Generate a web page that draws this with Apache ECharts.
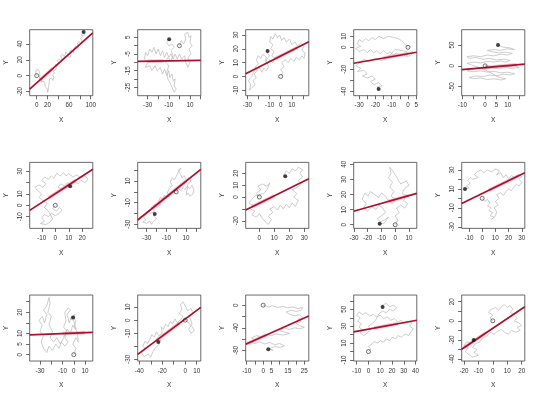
<!DOCTYPE html>
<html><head><meta charset="utf-8">
<script src="https://cdn.jsdelivr.net/npm/echarts@6/dist/echarts.min.js"></script>
<style>html,body{margin:0;padding:0;background:#fff}#c{width:540px;height:398px}</style>
</head><body><div id="c"></div>
<script>
// axis extents per panel (row-major, 3 rows x 5 columns)
const xMin = [-13, -39.4, -31.5, -33.3, -10.3, -18.9, -39.1, -9.1, -30.2, -15.5, -39.2, -41.4, -10.6, -12.5, -21.6];
const xMax = [104, 20.2, 25.3, 5.4, 17.5, 27.7, 25, 33, 15.7, 32.3, 16.9, 13.6, 27.7, 41, 22.2];
const yMin = [-25.3, -30, -13.9, -44, -71.6, -20.3, -33.7, -26.4, -2.4, -31.7, -3, -31.3, -99, -11.2, -42.1];
const yMax = [58, 9.6, 33.8, 16, 86.7, 37.9, 27.2, 29.2, 41.3, 38, 28.1, 19.2, 18, 66.9, 27];
// tick positions and labelled ticks
const xTicks = [[0,20,40,60,80,100],[-30,-20,-10,0,10,20],[-30,-20,-10,0,10,20],[-30,-25,-20,-15,-10,-5,0,5],[-10,-5,0,5,10,15],
  [-10,0,10,20],[-30,-20,-10,0,10,20],[0,10,20,30],[-30,-20,-10,0,10],[-10,0,10,20,30],
  [-30,-20,-10,0,10],[-40,-30,-20,-10,0,10],[-10,-5,0,5,10,15,20,25],[-10,0,10,20,30,40],[-20,-10,0,10,20]];
const xLabels = [[0,20,60,100],[-30,-10,10],[-30,-10,0,10],[-30,-20,-10,0,5],[-10,0,5,10],
  [-10,0,10,20],[-30,-10,10],[0,10,20,30],[-30,-20,-10,0,10],[-10,0,10,20,30],
  [-30,-10,0,10],[-40,-20,0,10],[-10,0,5,15,25],[-10,0,10,20,30,40],[-20,-10,0,10,20]];
const yTicks = [[-20,0,20,40],[-25,-20,-15,-10,-5,0,5],[-10,0,10,20,30],[-40,-30,-20,-10,0,10],[-50,0,50],
  [-10,0,10,20,30],[-30,-20,-10,0,10,20],[-20,-10,0,10,20],[0,10,20,30,40],[-30,-20,-10,0,10,20,30],
  [0,5,10,15,20,25],[-30,-20,-10,0,10],[-80,-60,-40,-20,0],[-10,0,10,20,30,40,50,60],[-40,-30,-20,-10,0,10,20]];
const yLabels = [[-20,0,20,40],[-25,-15,-5,5],[-10,0,10,20,30],[-40,-20,0,10],[-50,0,50],
  [-10,0,10,30],[-30,-10,10],[-20,0,10,20],[0,10,20,30,40],[-30,-10,10,30],
  [0,5,10,20],[-30,-10,0,10],[-80,-40,0],[-10,10,30,50],[-40,-20,0,20]];
// regression line: intercept and slope
const fitA = [-9.1, -9.0, 14.8, -5.9, -4.1, 10.3, 2.55, -5.3, 16.7, 5.1, 10.14, 0.9, -55.4, 26.5, -7.76];
const fitB = [0.607, 0.01, 0.408, 0.258, 0.464, 0.779, 0.730, 0.625, 0.257, 0.680, 0.0214, 0.655, 1.303, 0.258, 1.016];
// highlighted (pink) part of the fitted line, x range
const pinkFrom = [5, -30, -5, -15, 0, -5, -25, -5, -5, 5, -10, -25, -10, 5, -20];
const pinkTo   = [30, -15, 15, 0, 14, 15, 10, 10, 10, 28, 10, -5, 2, 25, -5];
// random walk paths (x,y pairs), start = open circle, end = filled dot
const walk1 = [0,0, -2,3, 1,5, -1,7, 3,8, 5,5, 7,7, 4,3, 6,1, 3,-1, 5,-3, 8,-2, 10,-5, 8,-8, 11,-9, 13,-7, 15,-10, 13,-12, 16,-14, 19,-12, 18,-16, 21,-18, 20,-21, 23,-19, 22,-15, 25,-13, 23,-9, 26,-7, 24,-4, 28,-3, 30,-6, 32,-2, 29,1, 33,3, 31,6, 35,7, 37,11, 35,14, 39,13, 41,16, 38,19, 42,21, 45,18, 47,22, 44,25, 48,27, 51,24, 53,27, 50,29, 54,30, 57,27, 60,29, 58,24, 62,23, 64,27, 61,31, 65,32, 68,29, 71,31, 69,35, 73,37, 76,34, 78,38, 75,41, 79,43, 82,40, 84,44, 81,47, 85,49, 83,52, 87,50, 89,53, 86,56, 87,55];
const walk2 = [0,0, 2,3, 4,1, 6,4, 5,7, 8,8, 9,5, 11,6, 10,2, 12,0, 9,-2, 11,-5, 8,-7, 10,-10, 8,-13, 6,-10, 5,-6, 2,-8, 0,-5, -2,-8, -4,-5, -6,-8, -8,-5, -10,-7, -12,-4, -14,-7, -16,-3, -18,-6, -20,-2, -22,-5, -24,-1, -26,-4, -28,-2, -30,-6, -32,-4, -33,-8, -30,-10, -32,-13, -28,-12, -26,-15, -23,-12, -21,-15, -18,-13, -16,-17, -14,-14, -12,-18, -10,-15, -9,-19, -7,-17, -6,-21, -4,-20, -5,-24, -3,-26, -5,-28, -7,-25, -9,-22, -11,-20, -12,-16, -10,-12, -13,-10, -11,-7, -8,-9, -6,-6, -8,-3, -5,-1, -7,1, -10,0, -12,2, -9.7,3.8];
const walk3 = [0,0, 2,3, 0,5, 3,7, 1,10, 4,12, 7,10, 9,13, 12,11, 14,14, 17,12, 19,15, 21,13, 22,17, 19,19, 21,22, 18,24, 15,22, 13,25, 10,23, 8,27, 5,25, 3,28, 1,26, -1,30, -3,28, -5,31, -7,27, -9,29, -10,25, -7,23, -9,20, -6,18, -8,15, -5,13, -7,10, -10,12, -12,9, -14,11, -13,14, -16,16, -18,13, -20,15, -22,12, -20,9, -23,7, -21,4, -24,2, -22,-1, -25,-3, -23,-6, -26,-8, -28,-10, -27,-6, -29,-3, -26,0, -24,4, -19,6, -17,3, -15,6, -13,4, -11,7, -13,12, -10,15, -12,17, -11.8,18.4];
const walk4 = [0,0, -2,3, -4,6, -6,8, -9,9, -12,10, -15,8, -18,10, -20,7, -22,9, -24,6, -26,8, -28,5, -30,7, -31,3, -29,1, -32,-1, -30,-4, -27,-2, -25,-5, -23,-2, -21,-5, -19,-3, -17,-6, -15,-3, -13,-6, -11,-4, -9,-7, -7,-5, -5,-8, -3,-6, -1,-9, 2,-7, 3,-4, 0,-5, -3,-3, -8,-2, -12,-9, -16,-12, -20,-10, -24,-13, -27,-11, -30,-14, -32,-17, -29,-19, -31,-22, -27,-21, -25,-24, -28,-26, -25,-28, -22,-26, -20,-29, -23,-31, -21,-34, -18,-32, -16,-35, -19,-36, -18,-38];
const walk5 = [0,0, 3,-2, 7,1, 10,-2, 13,0, 15,-4, 12,-6, 9,-4, 6,-7, 3,-5, 0,-8, -3,-6, -6,-9, -8,-12, -5,-14, -2,-12, 1,-15, 4,-13, 7,-17, 10,-15, 13,-19, 11,-22, 8,-20, 5,-24, 2,-22, -1,-26, -4,-24, -7,-28, -5,-31, -2,-29, 1,-33, 4,-31, 7,-34, 9,-31, 6,-27, 3,-18, 0,-10, -3,-3, -6,2, -8,6, -5,9, -2,7, 1,11, 4,9, 7,12, 9,9, 11,13, 8,16, 5,14, 2,18, -1,16, -4,20, -7,18, -8,22, -5,24, -2,22, 1,26, 4,24, 7,28, 10,26, 12,30, 9,33, 6,31, 3,34, 1,37, 4,39, 7,37, 10,41, 13,39, 11,43, 8,45, 5.7,50];
const walk6 = [0,0, -2,-3, 1,-5, 3,-2, 5,-4, 3,-7, 0,-9, -3,-7, -5,-10, -8,-8, -10,-11, -8,-14, -11,-16, -7,-17, -4,-15, -2,-12, -5,-5, -8,-2, -6,2, -9,4, -12,7, -10,10, -13,13, -15,16, -12,18, -9,16, -7,19, -10,22, -8,25, -5,23, -3,26, -1,24, 1,28, 4,26, 6,29, 8,26, 10,28, 13,25, 16,27, 19,24, 22,26, 24,23, 22,20, 19,22, 17,19, 14,21, 12,18, 9,20, 7,17, 4,19, 2,16, 5,14, 8,15, 11,16.8];
const walk7 = [0,0, 2,3, 5,1, 7,4, 9,2, 11,5, 14,3, 16,6, 18,2, 17,-2, 14,-4, 12,-1, 10,-3, 12,7, 15,10, 13,13, 10,11, 8,15, 6,13, 4,17, 2,20, 5,22, 2,18, 0,14, -2,11, -4,13, -6,9, -4,6, -7,3, -9,-1, -7,-4, -10,-6, -12,-3, -14,-7, -16,-5, -18,-9, -16,-12, -19,-14, -22,-12, -24,-15, -22,-18, -26,-20, -28,-17, -30,-21, -33,-23, -31,-26, -34,-28, -30,-29, -27,-27, -25,-30, -23,-27, -20,-25, -23,-22, -21.8,-20.5];
const walk8 = [0,0, -2,3, 1,6, -1,9, 2,11, 5,9, 7,12, 5,6, 3,3, -3,1, -5,-2, -7,-5, -4,-7, -6,-10, -3,-12, -5,-15, -2,-17, 0,-14, 2,-18, 4,-21, 6,-23, 8,-19, 6,-16, 9,-13, 7,-10, 10,-8, 12,-11, 14,-7, 16,-10, 18,-6, 20,-9, 22,-5, 24,-8, 26,-3, 23,0, 25,3, 22,6, 25,8, 28,11, 26,14, 29,17, 27,20, 29,23, 26,25, 24,22, 22,24, 20,20, 18,22, 16,18, 17.3,17.5];
const walk9 = [0,0, 2,3, 0,6, 3,8, 1,11, 4,13, 7,11, 9,14, 6,16, 8,19, 5,21, 7,24, 10,26, 8,29, 4,27, 2,30, 0,33, -2,36, -4,38, -3,34, -5,31, -2,28, -4,25, -1,22, -3,19, 0,17, -2,14, -5,16, -7,19, -10,21, -12,18, -15,20, -18,22, -20,19, -22,21, -24,17, -21,14, -23,11, -20,9, -17,12, -14,10, -12,13, -9,11, -7,8, -10,6, -13,4, -11,2, -8,3, -5,5, -8,1, -11.3,0.7];
const walk10 = [0,0, 2,-3, 4,-1, 6,-5, 4,-8, 7,-10, 5,-13, 8,-15, 6,-18, 9,-20, 7,-22, 10,-19, 11,-14, 9,-10, 12,-7, 10,-3, 13,0, 11,4, 14,6, 16,3, 18,7, 20,10, 22,8, 24,12, 26,15, 28,13, 30,17, 28,20, 30,23, 27,25, 25,22, 22,24, 20,21, 18,25, 16,22, 14,27, 11,25, 13,29, 10,31, 7,28, 4,30, 1,27, -1,30, -4,28, -6,25, -3,22, -7,20, -9,22, -11,19, -9,16, -12,13, -10,11, -13,10];
const walk11 = [0,0, 2,3, -1,5, 2,8, 4,6, 3,11, 0,13, 2,16, -2,18, -4,15, -6,19, -3,21, -5,22, -8,20, -7,16, -9,13, -6,11, -8,8, -5,6, -8,4, -11,6, -13,3, -16,5, -19,2, -22,4, -24,1, -27,3, -29,6, -27,9, -30,11, -28,14, -31,16, -28,18, -26,15, -24,19, -27,21, -24,23, -22,27, -21,24, -23,20, -20,18, -22,14, -19,11, -21,8, -18,6, -15,8, -12,5, -9,8, -6,12, -3,10, -1,14, 2,12, 0,16, -3,17, 1,19, -0.6,17.5];
const walk12 = [0,0, 3,-2, 6,-5, 8,-8, 5,-10, 3,-7, 6,-3, 4,2, 7,5, 5,9, 2,7, 0,11, -2,14, -4,12, -3,8, -5,5, -2,3, -4,0, -7,-2, -9,1, -11,-3, -13,-1, -15,-5, -17,-3, -19,-7, -21,-5, -20,-10, -23,-12, -25,-9, -27,-13, -29,-11, -31,-15, -33,-18, -35,-16, -37,-20, -34,-22, -38,-25, -36,-28, -32,-26, -30,-28, -28,-24, -26,-21, -23,-19, -21,-15, -23.5,-16.8];
const walk13 = [0,0, 3,-3, 6,-1, 9,-4, 12,-2, 15,-5, 18,-3, 21,-6, 24,-4, 23,-9, 20,-11, 17,-9, 14,-12, 16,-16, 19,-19, 22,-17, 24,-22, 21,-25, 23,-29, 20,-32, 22,-36, 25,-39, 22,-42, 19,-40, 16,-43, 13,-41, 10,-45, 13,-48, 16,-50, 12,-53, 8,-51, 5,-54, 2,-52, -1,-56, -4,-54, -7,-58, -5,-62, -8,-65, -5,-68, -2,-65, 1,-69, 4,-66, 7,-70, 10,-68, 13,-72, 10,-75, 7,-73, 4,-77, 6,-80, 3.1,-78];
const walk14 = [0,0, 2,3, 0,6, 3,9, 5,12, 8,10, 10,13, 13,11, 15,15, 18,13, 20,17, 23,15, 25,19, 28,17, 31,21, 34,19, 36,23, 38,27, 35,30, 37,34, 33,36, 30,33, 28,37, 25,35, 22,39, 19,37, 16,41, 13,39, 10,43, 7,41, 4,44, 1,42, -2,46, -5,44, -8,47, -10,43, -7,40, -9,36, -6,33, -8,29, -5,26, -7,22, -4,19, -1,22, 2,26, 0,30, 3,33, 6,37, 9,45, 12,48, 15,46, 18,50, 21,48, 24,52, 21,55, 18,53, 15,57, 12,55, 12,52.8];
const walk15 = [0,0, -2,3, 0,6, -3,9, -1,12, 2,14, 4,11, 6,15, 8,17, 10,14, 12,16, 14,12, 12,9, 15,6, 17,3, 15,0, 18,-2, 20,-5, 17,-7, 19,-10, 16,-12, 13,-10, 11,-14, 8,-12, 6,-9, 3,-11, 1,-14, -2,-12, -4,-16, -7,-18, -9,-22, -12,-24, -14,-28, -11,-30, -13,-33, -10,-36, -14,-38, -17,-35, -19,-32, -17,-28, -20,-26, -18,-22, -15,-23, -13.3,-20];
const walks = [walk1,walk2,walk3,walk4,walk5,walk6,walk7,walk8,walk9,walk10,walk11,walk12,walk13,walk14,walk15];

const FONT = "'Liberation Sans', Arial, sans-serif";
const TXT = '#333';
const grids = [], xAxes = [], yAxes = [], series = [];
for (let i = 0; i < 15; i++) {
  const r = Math.floor(i / 5), c = i % 5;
  grids.push({left: 29.7 + 108 * c, top: 29.7 + 132.67 * r, width: 63.1, height: 66,
    show: true, borderColor: '#444', borderWidth: 0.8, backgroundColor: 'transparent'});
  xAxes.push({type: 'value', gridIndex: i, min: xMin[i], max: xMax[i],
    name: 'X', nameLocation: 'middle', nameGap: 21,
    nameTextStyle: {fontFamily: FONT, fontSize: 6.5, color: TXT},
    axisLine: {show: false, onZero: false}, splitLine: {show: false},
    axisTick: {show: true, customValues: xTicks[i], length: 3.6, lineStyle: {color: '#444', width: 0.8}},
    axisLabel: {customValues: xLabels[i], margin: 7, fontFamily: FONT, fontSize: 6.3, color: TXT}});
  yAxes.push({type: 'value', gridIndex: i, min: yMin[i], max: yMax[i],
    name: 'Y', nameLocation: 'middle', nameGap: 20, nameRotate: 90,
    nameTextStyle: {fontFamily: FONT, fontSize: 6.5, color: TXT},
    axisLine: {show: false, onZero: false}, splitLine: {show: false},
    axisTick: {show: true, customValues: yTicks[i], length: 3.6, lineStyle: {color: '#444', width: 0.8}},
    axisLabel: {customValues: yLabels[i], rotate: 90, margin: 6, fontFamily: FONT, fontSize: 6.3, color: TXT}});
  const w = walks[i], pts = [];
  for (let k = 0; k < w.length; k += 2) pts.push([w[k], w[k + 1]]);
  series.push({type: 'line', xAxisIndex: i, yAxisIndex: i, data: pts, showSymbol: false, silent: true,
    lineStyle: {color: '#b8b8b8', width: 0.7}, z: 1});
  const f = x => fitA[i] + fitB[i] * x;
  series.push({type: 'line', xAxisIndex: i, yAxisIndex: i, data: [[pinkFrom[i], f(pinkFrom[i])], [pinkTo[i], f(pinkTo[i])]],
    showSymbol: false, silent: true, lineStyle: {color: 'rgba(240,140,160,0.55)', width: 3.5}, z: 2});
  series.push({type: 'line', xAxisIndex: i, yAxisIndex: i, data: [[xMin[i], f(xMin[i])], [xMax[i], f(xMax[i])]],
    showSymbol: false, silent: true, lineStyle: {color: '#a8102c', width: 1.7}, z: 3});
  series.push({type: 'scatter', xAxisIndex: i, yAxisIndex: i, data: [pts[0]], symbolSize: 4, silent: true,
    itemStyle: {color: 'rgba(255,255,255,0)', borderColor: '#222', borderWidth: 0.8}, z: 4});
  series.push({type: 'scatter', xAxisIndex: i, yAxisIndex: i, data: [pts[pts.length - 1]], symbolSize: 4, silent: true,
    itemStyle: {color: '#111'}, z: 4});
}
const chart = echarts.init(document.getElementById('c'), null, {renderer: 'canvas'});
chart.setOption({animation: false, backgroundColor: '#fff', grid: grids, xAxis: xAxes, yAxis: yAxes, series: series});
</script></body></html>
